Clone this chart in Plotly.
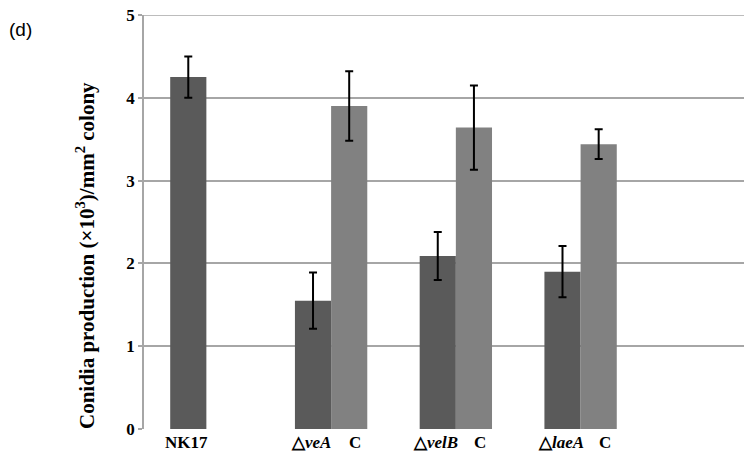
import plotly.graph_objects as go

categories = ["NK17", "veA", "velB", "laeA"]
mutant_values = [4.25, 1.55, 2.09, 1.90]
mutant_errors = [0.25, 0.34, 0.29, 0.31]
comp_values = [None, 3.90, 3.64, 3.44]
comp_errors = [None, 0.42, 0.51, 0.18]
mutant_labels = ["<b>NK17</b>", "<b>△<i>veA</i></b>", "<b>△<i>velB</i></b>", "<b>△<i>laeA</i></b>"]
comp_labels = ["", "<b>C</b>", "<b>C</b>", "<b>C</b>"]
y_ticks = [0, 1, 2, 3, 4, 5]
y_ticktext = ["<b>%d</b>" % v for v in y_ticks]

serif = "Liberation Serif, Times New Roman, serif"
W, H = 755, 461
ML, MR, MT, MB = 144, 11, 15, 32
GRID = "#a6a6a6"

fig = go.Figure()
fig.add_trace(go.Bar(
    x=categories, y=mutant_values, name="mutant",
    marker=dict(color="#5a5a5a", line=dict(width=0)),
    error_y=dict(type="data", array=mutant_errors, color="#000000", thickness=2, width=4),
))
fig.add_trace(go.Bar(
    x=categories, y=comp_values, name="complement",
    marker=dict(color="#818181", line=dict(width=0)),
    error_y=dict(type="data", array=[e if e is not None else 0 for e in comp_errors],
                 color="#000000", thickness=2, width=4),
))

annotations = []
for cat, ml, cl in zip(categories, mutant_labels, comp_labels):
    annotations.append(dict(x=cat, y=0, xref="x", yref="y", text=ml, showarrow=False,
                            xshift=-20, yshift=-2, yanchor="top",
                            font=dict(family=serif, size=17, color="#000000")))
    if cl:
        annotations.append(dict(x=cat, y=0, xref="x", yref="y", text=cl, showarrow=False,
                                xshift=24, yshift=-2, yanchor="top",
                                font=dict(family=serif, size=17, color="#000000")))

plot_w = W - ML - MR
plot_h = H - MT - MB
def px(xp):
    return (xp - ML) / plot_w
def py(yp):
    return (H - MB - yp) / plot_h

annotations.append(dict(x=px(7), y=py(29), xref="paper", yref="paper",
                        text="(d)", showarrow=False, xanchor="left", yanchor="middle",
                        font=dict(family="Liberation Sans, Arial, sans-serif", size=19, color="#000000")))
annotations.append(dict(x=px(86), y=py(256), xref="paper", yref="paper",
                        text="<b>Conidia production (×10<sup>3</sup>)/mm<sup>2</sup> colony</b>",
                        textangle=-90, showarrow=False, xanchor="center", yanchor="middle",
                        font=dict(family=serif, size=21, color="#000000")))

# top gridline (plotly drops the gridline lying on the plot edge)
shapes = [dict(type="line", xref="paper", x0=0, x1=1, yref="y", y0=y_ticks[-1], y1=y_ticks[-1],
               line=dict(color=GRID, width=1.5), layer="below")]

fig.update_layout(
    width=W, height=H,
    margin=dict(l=ML, r=MR, t=MT, b=MB, autoexpand=False),
    paper_bgcolor="#ffffff", plot_bgcolor="#ffffff",
    barmode="group", bargap=0.42, bargroupgap=0,
    showlegend=False,
    hovermode=False,
    annotations=annotations,
    shapes=shapes,
    xaxis=dict(range=[-0.5, 4.31], showticklabels=False, showgrid=False,
               showline=False, zeroline=False, ticks="", automargin=False),
    yaxis=dict(range=[0, y_ticks[-1]], tickvals=y_ticks, ticktext=y_ticktext,
               showgrid=True, gridcolor=GRID, gridwidth=1.5,
               showline=True, linecolor=GRID, linewidth=1.5, zeroline=False,
               ticks="outside", ticklen=4, tickcolor=GRID, tickwidth=1.5, automargin=False,
               ticklabeloverflow="allow",
               tickfont=dict(family=serif, size=17, color="#000000")),
)

fig.write_html("out.html", config={"displayModeBar": False},
               post_script="document.body.style.margin='0';")
